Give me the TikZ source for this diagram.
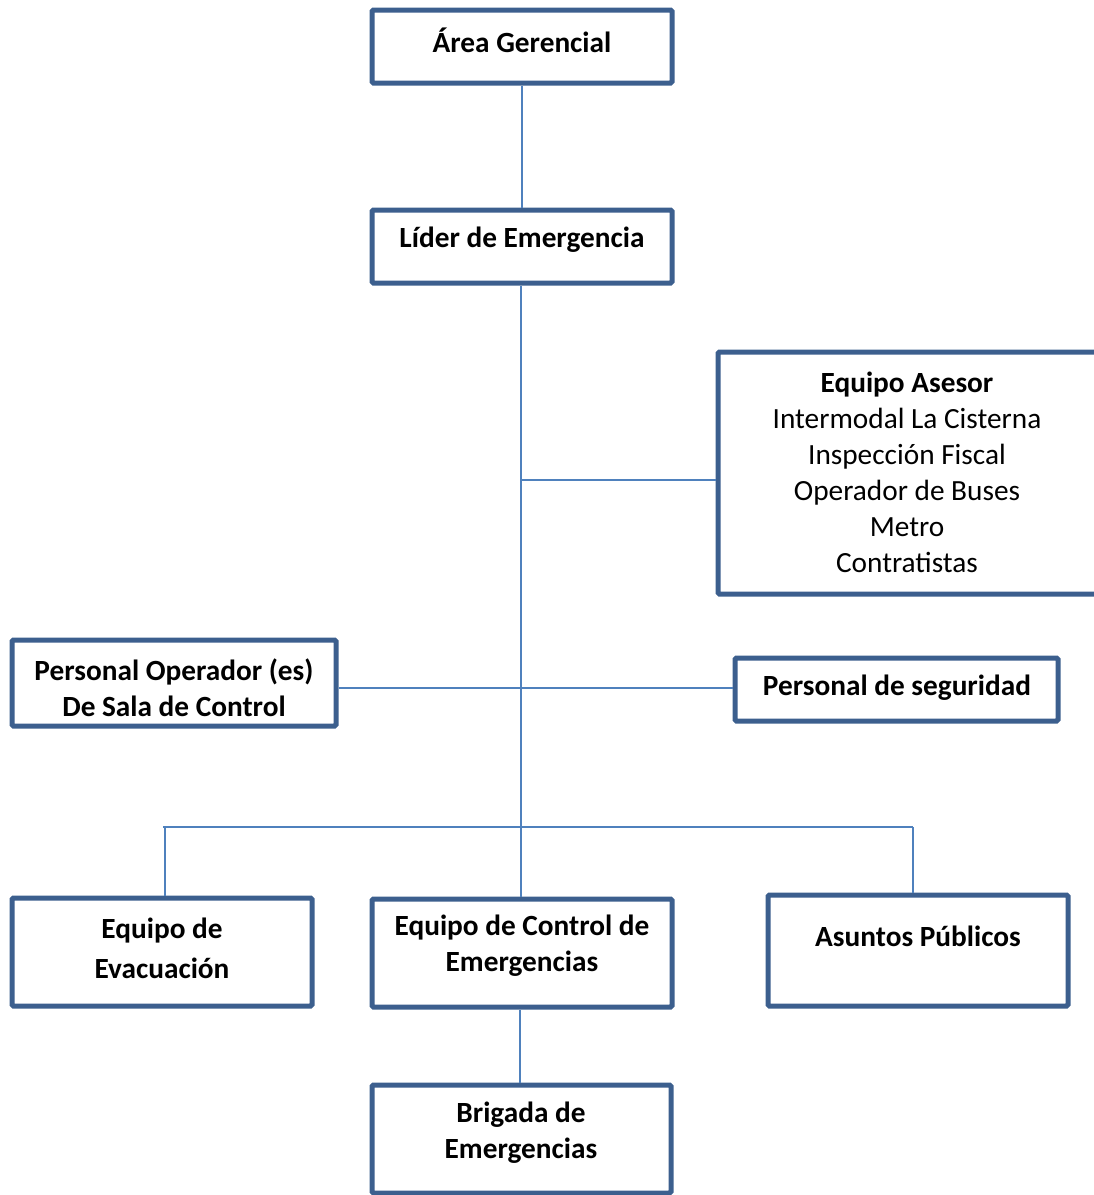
\documentclass[tikz,border=0pt]{standalone}
\usepackage{fontspec}
\setmainfont{Carlito}
\definecolor{boxblue}{HTML}{3C5F8E}
\definecolor{lineblue}{HTML}{4F81BD}
\begin{document}
\begin{tikzpicture}[x=1pt,y=-1pt,
  box/.style={draw=boxblue,line width=5pt,rounded corners=1.5pt,fill=white,inner sep=0pt},
  lbl/.style={align=center,font=\fontsize{29.3}{36}\selectfont,inner sep=0pt},
  conn/.style={draw=lineblue,line width=2pt}]
\useasboundingbox (0,0) rectangle (1094,1195);
\clip (0,0) rectangle (1094,1195);
\coordinate (j1) at (521,480);
\coordinate (j2) at (521,688);
\coordinate (bl) at (163,827);
\coordinate (br) at (913,827);
% boxes
\node[box,minimum width=300pt,minimum height=73pt] (ag) at (522,46.5) {};
\node[box,minimum width=300pt,minimum height=73pt] (lider) at (522,246.5) {};
\node[box,minimum width=392pt,minimum height=242pt] (ase) at (914,473) {};
\node[box,minimum width=324pt,minimum height=86pt] (op) at (174,683) {};
\node[box,minimum width=323pt,minimum height=63pt] (seg) at (896.5,689.5) {};
\node[box,minimum width=300pt,minimum height=108pt] (evac) at (162,952) {};
\node[box,minimum width=300pt,minimum height=108pt] (ctrl) at (522,953) {};
\node[box,minimum width=300pt,minimum height=111pt] (asu) at (918,950.5) {};
\node[box,minimum width=299pt,minimum height=108pt] (brig) at (521.5,1139) {};
% connectors
\draw[conn] (ag.south) -- (lider.north);
\draw[conn] (lider.south -| j1) -- (ctrl.north -| j1);
\draw[conn] (j1) -- (j1 -| ase.west);
\draw[conn] (op.east |- j2) -- (seg.west |- j2);
\draw[conn] (bl) -- (br);
\draw[conn] (165,827) -- (evac.north -| 165,0);
\draw[conn] (br) -- (asu.north -| br);
\draw[conn] (ctrl.south -| 520,0) -- (brig.north -| 520,0);
% labels
\node[lbl] (tag) at (522,40) {\textbf{Área Gerencial}};
\node[lbl] (tlider) at (522,240) {\textbf{Líder de Emergencia}};
\node[lbl] (tase) at (907,472) {\textbf{Equipo Asesor}\\Intermodal La Cisterna\\Inspección Fiscal\\Operador de Buses\\Metro\\Contratistas};
\node[lbl] (top1) at (174,688) {\textbf{Personal Operador (es)}\\\textbf{De Sala de Control}};
\node[lbl] (tseg) at (897,688) {\textbf{Personal de seguridad}};
\node[lbl,font=\fontsize{29.3}{40}\selectfont] (tevac) at (162,948) {\textbf{Equipo de}\\\textbf{Evacuación}};
\node[lbl] (tctrl) at (522,946) {\textbf{Equipo de Control de}\\\textbf{Emergencias}};
\node[lbl] (tasu) at (918,936) {\textbf{Asuntos Públicos}};
\node[lbl] (tbrig) at (521,1133) {\textbf{Brigada de}\\\textbf{Emergencias}};
\end{tikzpicture}
\end{document}
